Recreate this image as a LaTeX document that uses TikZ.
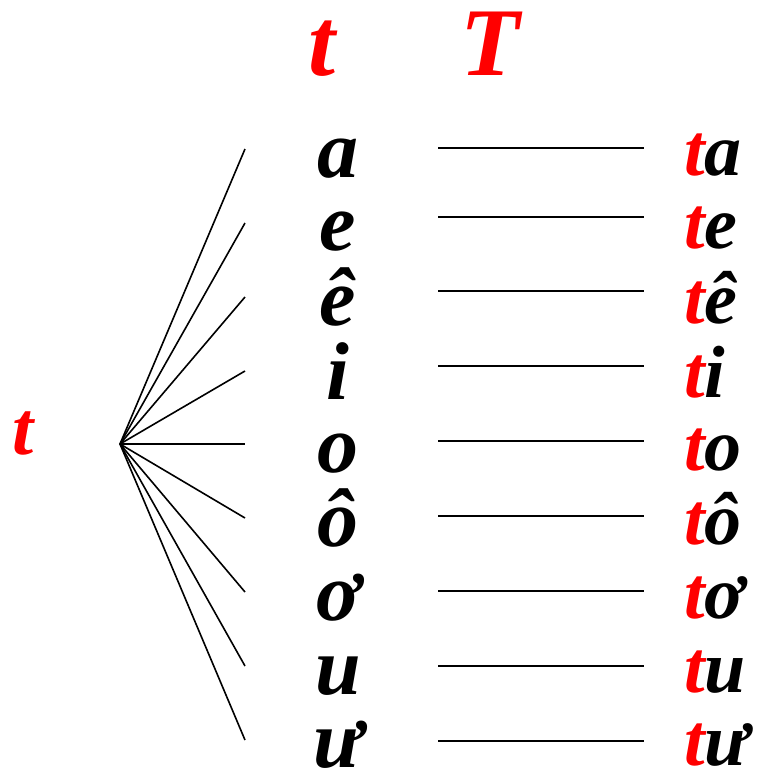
\documentclass[tikz,border=0pt]{standalone}
\usepackage{fontspec}
\setmainfont{Liberation Serif}
\begin{document}
\begin{tikzpicture}[x=1pt,y=-1pt,
  lbl/.style={inner sep=0pt,outer sep=0pt,anchor=base,font=\fontsize{82}{82}\selectfont\bfseries\itshape},
  word/.style={inner sep=0pt,outer sep=0pt,anchor=base west,font=\fontsize{74}{74}\selectfont\bfseries\itshape},
  head/.style={inner sep=0pt,outer sep=0pt,anchor=base,text=red,font=\fontsize{97}{97}\selectfont\bfseries\itshape},
  ln/.style={line width=1.6pt,black}]
\useasboundingbox (0,0) rectangle (762,771);
\node[head] (h1) at (322,75) {t};
\node[head] (h2) at (490,75) {T};
\node[inner sep=0pt,anchor=base,text=red,font=\fontsize{76}{76}\selectfont\bfseries\itshape] (lt) at (23,454) {t};
\coordinate (o) at (120,444);
\foreach \i/\v/\fy/\ly/\by in {1/a/149/148/177, 2/e/223/217/250, 3/ê/297/291/325, 4/i/371/366/399, 5/o/444/441/472, 6/ô/518/516/546, 7/ơ/592/591/620, 8/u/666/666/694, 9/ư/740/741/767}{
  \coordinate (f\i) at (245,\fy);
  \draw[ln] (o) -- (f\i);
  \node[lbl] (m\i) at (338,\by) {\v};
  \coordinate (la\i) at (438,\ly);
  \coordinate (lb\i) at (644,\ly);
  \draw[ln] (la\i) -- (lb\i);
  \node[word] (w\i) at (684,\by-2) {\textcolor{red}{t}\v};
}
\end{tikzpicture}
\end{document}
